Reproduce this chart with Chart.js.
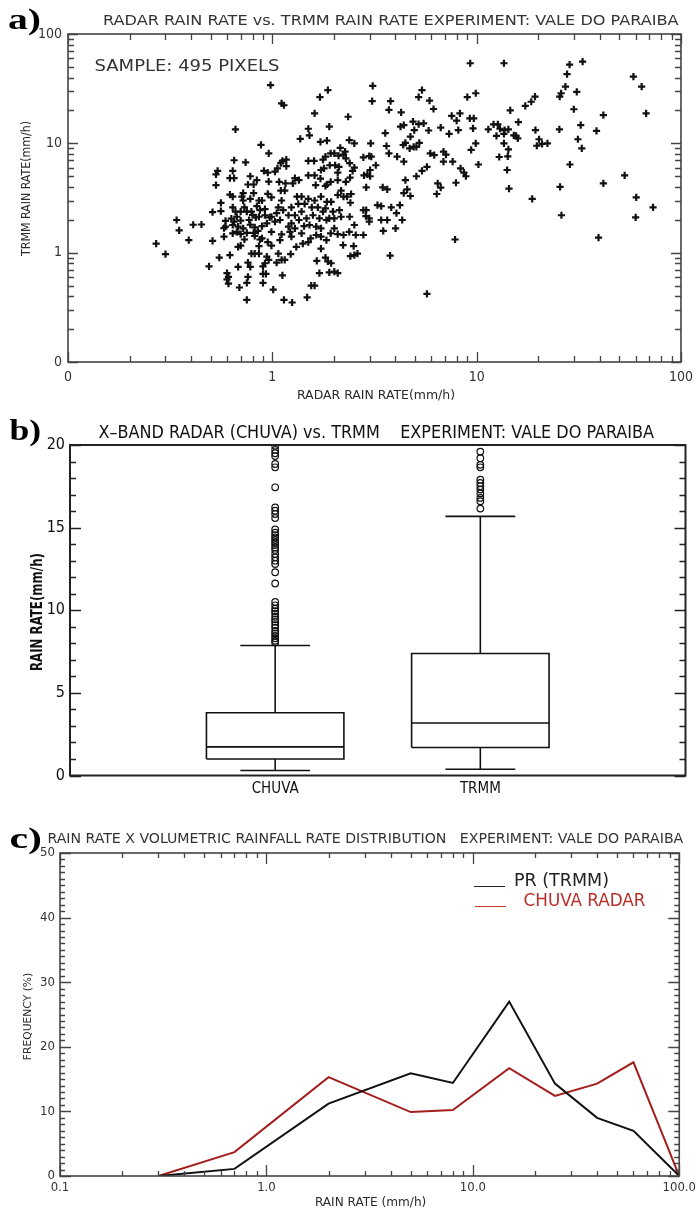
<!DOCTYPE html>
<html>
<head>
<meta charset="UTF-8">
<title>Radar vs TRMM rain rate - Vale do Paraiba</title>
<script src="https://cdn.jsdelivr.net/npm/chart.js@4.4.1/dist/chart.umd.min.js"></script>
<style>
  html, body { margin: 0; padding: 0; background: #fff; }
  body { position: relative; width: 700px; height: 1219px; overflow: hidden; }
  canvas { position: absolute; left: 0; }
  .txt { position: absolute; white-space: pre; line-height: 1; }
  .legline { position: absolute; height: 0; border-top: 1.5px solid; }
</style>
</head>
<body>
<canvas id="scatterChart" width="700" height="405" style="top:0"></canvas>
<canvas id="boxChart" width="700" height="395" style="top:405px"></canvas>
<canvas id="freqChart" width="700" height="419" style="top:800px"></canvas>
<script>
const NARROW = '"Liberation Sans Narrow", "DejaVu Sans Condensed", "Liberation Sans", sans-serif';
const SERIF = '"Liberation Serif", "DejaVu Serif", serif';

// ---- a) radar vs TRMM rain rate (mm/h) ----
const radarRate = [
  0.27,0.30,0.34,0.35,0.39,0.41,0.45,0.49,0.51,0.51,
  0.53,0.53,0.54,0.55,0.56,0.56,0.58,0.59,0.58,0.59,
  0.60,0.61,0.60,0.61,0.62,0.64,0.62,0.63,0.62,0.65,
  0.64,0.64,0.64,0.65,0.66,0.66,0.67,0.68,0.68,0.68,
  0.69,0.70,0.70,0.70,0.70,0.72,0.72,0.72,0.74,0.75,
  0.75,0.76,0.75,0.75,0.76,0.76,0.77,0.78,0.78,0.78,
  0.78,0.79,0.79,0.81,0.82,0.82,0.82,0.83,0.86,0.86,
  0.86,0.86,0.87,0.88,0.89,0.89,0.90,0.90,0.90,0.91,
  0.92,0.92,0.92,0.93,0.94,0.94,0.95,0.95,0.95,0.96,
  0.96,0.97,0.99,0.99,0.99,
  1.11,1.14,1.61,2.35,3.08,3.79,5.88,3.72,4.27,6.15,
  7.55,7.98,8.28,9.26,9.68,9.6,4.88,4.4,4.24,5.2,
  5.5,5.82,6.67,7.33,8.13,3.57,4.95,4.74,4.48,4.37,
  5.24,4.92,4.7,5.07,3.62,3.03,2.52,2.38,1.90,1.50,
  1.52,1.37,1.72,1.85,2.15,2.27,9.9,9.4,
  1.12,1.17,1.17,1.10,1.06,1.03,1.50,1.60,1.77,1.82,
  1.93,2.01,2.11,2.23,2.29,1.91,2.03,2.12,2.39,2.52,
  2.47,2.09,1.79,1.73,1.61,1.50,1.35,1.29,1.26,1.16,
  1.10,1.15,1.08,2.79,2.98,3.05,3.21,3.01,2.92,2.81,
  3.01,2.88,2.40,2.29,2.09,1.85,1.82,1.72,1.93,3.72,
  4.08,4.4,4.48,5.07,5.4,5.71,5.93,6.2,6.88,7.08,
  6.88,7.63,8.34,8.66,8.86,7.92,6.45,6.67,6.38,4.57,
  4.4,4.74,3.47,3.65,2.09,2.23,2.32,2.43,2.17,1.63,
  1.11,1.07,1.24,1.20,1.32,1.34,1.44,1.50,1.61,1.56,
  1.67,1.82,1.85,1.94,1.90,2.01,2.13,2.17,2.39,2.41,
  2.52,2.38,2.79,2.88,2.87,2.98,2.98,2.79,2.56,3.27,
  3.41,3.82,4.21,4.05,4.32,3.41,3.65,4.01,3.49,1.03,
  1.09,1.20,1.24,1.29,1.35,1.43,1.52,1.64,1.73,1.84,
  1.93,2.09,2.23,2.01,1.11,1.09,1.24,1.39,1.41,1.50,
  1.54,1.73,
  2.22,2.50,2.52,2.61,2.41,1.65,1.82,1.87,1.94,2.09,
  2.01,1.70,1.90,1.55,1.61,1.48,1.25,1.14,1.01,1.12,
  1.07,1.11,1.15,1.23,1.05,3.77,5.71,7.84,
  9.3,13.6,28.5,33,27.7,27.2,25.9,25.5,30.9,9.0,
  9.9,17.3,18.5,19.3,29.9,41.7,67.5,14.6,16.0,11.4,
  12.1,12.7,13.0,13.7,13.6,12.5,14.3,15.2,15.6,15.9,
  13.6,14.3,14.2,12.9,14.1,14.4,18.7,19.4,20.2,19.7,
  20.9,22.2,25.4,25.6,26,28.6,32.3,31.3,32.7,38.6,
  41.7,39.5,53,60.4,60,73,58.5,64.2,10.2,
  0.98,1.71,1.87,3.1,5.2,5.4,
  0.81,0.85,0.87,0.73,0.67,0.65,0.80,0.84,0.99,0.89,
  0.73,0.64,0.71,0.81,0.96,0.84,
  1.05,1.13,1.29,1.39,1.47,1.58,1.70,1.77,1.98,1.39,
  1.73,1.22,1.64,1.84,1.31,1.73
];
const trmmRate = [
  1.21,0.97,1.99,1.60,1.30,1.80,1.81,0.75,2.35,1.28,
  4.15,5.2,5.6,0.90,2.85,2.4,1.68,1.73,1.40,1.95,
  0.65,0.60,0.57,0.52,3.4,3.25,0.95,2.05,4.8,4.8,
  5.6,1.79,1.50,7.0,2.37,13.4,2.13,0.74,1.73,1.13,
  0.48,1.96,2.37,1.48,1.16,3.0,3.5,1.67,6.7,0.53,
  1.52,0.60,2.37,0.37,4.2,0.81,1.99,5.0,3.1,1.80,
  0.74,2.37,0.98,4.2,1.70,1.42,0.98,2.1,2.13,1.15,
  0.98,3.0,2.45,9.7,1.75,1.35,0.75,0.64,0.53,5.6,
  2.2,0.80,2.5,0.64,1.85,0.92,5.4,3.45,1.25,0.86,
  8.1,2.1,3.2,1.55,1.16,
  23.2,22.3,18.8,17.5,24.3,24.3,24.6,20.2,19.2,20.6,
  17.8,16.1,18.8,16.9,16.9,13.7,15.8,14.7,14.2,15.0,
  15.2,13.1,13.9,12.2,13.2,12.4,13.2,11.5,10.1,9.66,
  10.1,9.3,9.0,9.3,9.45,10.0,10.0,10.7,14.2,13.6,
  11.8,11.0,10.3,10.6,9.1,8.4,10.0,8.7,
  6.9,7.1,6.2,6.6,5.9,5.5,6.9,6.9,7.1,7.55,
  8.1,8.1,7.7,7.9,7.3,6.3,6.3,6.1,6.6,6.0,
  5.6,5.4,5.9,5.7,5.1,5.1,4.6,4.8,4.3,4.3,
  3.7,3.7,4.45,7.45,7.66,7.55,6.3,5.7,5.2,5.1,
  5.0,3.95,4.85,4.45,4.6,4.2,4.07,4.75,4.45,8.1,
  7.55,6.8,4.6,5.0,5.6,6.1,8.1,7.8,8.4,7.9,
  6.8,6.8,5.9,5.4,5.0,4.36,4.3,3.93,3.44,3.79,
  3.5,3.3,3.95,3.79,3.37,3.25,3.25,3.44,3.7,4.15,
  3.0,2.6,2.6,2.2,3.25,2.8,2.8,3.1,3.0,2.6,
  2.6,2.54,2.92,2.92,2.06,2.06,2.45,2.13,2.13,2.86,
  1.79,1.55,2.45,2.45,2.16,2.06,1.92,1.45,1.45,2.72,
  2.67,2.6,2.72,2.3,1.99,1.99,1.99,1.67,1.58,1.92,
  1.99,1.73,1.85,1.67,1.99,1.75,1.79,1.73,1.67,1.99,
  1.5,1.48,1.45,1.67,1.47,1.30,1.40,1.5,1.21,1.25,
  1.35,1.40,
  1.17,1.15,0.95,0.98,0.93,0.84,0.90,0.83,0.80,0.65,
  0.67,0.65,0.66,0.50,0.50,0.39,0.35,0.37,0.46,0.62,
  0.98,0.86,0.86,0.97,0.81,0.94,0.42,1.32,
  54,54,52.5,56,43,33,28.7,26.7,29.5,26.5,
  28.7,22,24,26.7,20.5,18.1,18.8,20,15.6,13.4,
  14.9,14.9,13.6,13.2,12.2,11.7,13.4,11.8,11.7,11.1,
  10.0,8.8,7.6,7.5,5.7,3.85,3.1,13.2,10.9,9.5,
  9.9,10,13.4,4.0,2.2,6.4,14.7,10.9,9.0,13.0,
  4.3,1.37,5.1,3.2,2.1,2.6,40.8,33,6.4,
  34,26.5,30.7,33.5,26.5,30.7,
  1.52,1.58,1.32,1.32,1.55,1.92,2.21,2.67,2.13,3.0,
  2.6,2.6,3.25,3.5,4.46,4.6,
  2.3,2.45,2.2,2.37,2.06,2.2,2.06,2.37,2.37,3.25,
  3.25,1.55,1.45,1.30,1.13,1.09
];
const logMajors = [0.1, 1, 10, 100];
const scatterTickLabels = ['0', '1', '10', '100'];

// ---- b) box plot statistics (mm/h) ----
const boxCats = ['CHUVA', 'TRMM'];
const boxWhiskerLow = [0.3, 0.38];
const boxQ1 = [1.0, 1.69];
const boxMedian = [1.73, 3.18];
const boxQ3 = [3.8, 7.38];
const boxWhiskerHigh = [7.87, 15.68];
const chuvaOutliers = [19.95, 19.7, 19.5, 19.33, 18.85, 18.65, 17.44, 16.22, 16.02, 15.82, 15.58,
  14.89, 14.7, 14.55, 14.4, 14.25, 14.1, 13.95, 13.8, 13.65, 13.4, 13.2, 13.0, 12.8, 12.3, 11.62,
  10.5, 10.3, 10.1, 9.95, 9.8, 9.6, 9.45, 9.3, 9.1, 8.95, 8.75, 8.6, 8.45, 8.3, 8.15, 8.05];
const trmmOutliers = [19.6, 19.2, 18.8, 18.65, 17.9, 17.7, 17.5, 17.3, 17.07, 16.8, 16.6, 16.15];
const boxYTicks = [0, 5, 10, 15, 20];

// ---- c) volumetric rain rate distribution (%) ----
const rateBins = [0.3, 0.7, 2, 5, 8, 15, 25, 40, 60, 100];
const prFreq = [0, 1.1, 11.2, 15.9, 14.4, 27.0, 14.3, 9.0, 7.0, 0];
const chuvaFreq = [0, 3.7, 15.3, 9.9, 10.2, 16.7, 12.4, 14.3, 17.6, 0];
const freqTickLabels = ['0.1', '1.0', '10.0', '100.0'];
const freqYTicks = [0, 10, 20, 30, 40, 50];

// minor tick positions (decades 2..9)
const logMinors = [];
[0.1, 1, 10].forEach((d) => { for (let k = 2; k <= 9; k++) logMinors.push(k * d); });
const unitMinors = (max, step) => {
  const out = [];
  for (let v = 1; v < max; v++) if (v % step !== 0) out.push(v);
  return out;
};

// IDL-like frame: box round the plot with inward ticks on all sides
function idlFrame(o) {
  return {
    id: 'idlFrame',
    afterDatasetsDraw(chart) {
      const { ctx, chartArea: a } = chart;
      const xs = chart.scales.x, ys = chart.scales.y;
      ctx.save();
      ctx.strokeStyle = o.color;
      ctx.lineWidth = o.tickWidth;
      ctx.beginPath();
      const tx = (vals, len) => vals.forEach((v) => {
        const p = Math.round(xs.getPixelForValue(v)) + 0.5;
        ctx.moveTo(p, a.bottom); ctx.lineTo(p, a.bottom - len);
        ctx.moveTo(p, a.top); ctx.lineTo(p, a.top + len);
      });
      const ty = (vals, len) => vals.forEach((v) => {
        const p = Math.round(ys.getPixelForValue(v)) + 0.5;
        ctx.moveTo(a.left, p); ctx.lineTo(a.left + len, p);
        ctx.moveTo(a.right, p); ctx.lineTo(a.right - len, p);
      });
      if (o.xMajor) tx(o.xMajor, o.majorLen);
      if (o.xMinor) tx(o.xMinor, o.minorLen);
      if (o.yMajor) ty(o.yMajor, o.majorLen);
      if (o.yMinor) ty(o.yMinor, o.minorLen);
      ctx.stroke();
      ctx.lineWidth = o.frameWidth;
      ctx.strokeRect(a.left, a.top, a.right - a.left, a.bottom - a.top);
      ctx.restore();
    }
  };
}

function axis(type, min, max, ticks, labels, fit, isY, font, pad, color) {
  return {
    type, min, max,
    grid: { display: false, drawTicks: false },
    border: { display: false },
    afterBuildTicks: (s) => { s.ticks = ticks.map((v) => ({ value: v })); },
    afterFit: (s) => { if (isY) s.width = fit; else s.height = fit; },
    ticks: {
      autoSkip: false, maxRotation: 0, padding: pad, color,
      font, callback: (v) => labels[ticks.indexOf(v)]
    }
  };
}

const base = {
  responsive: false, animation: false, devicePixelRatio: 1,
  events: []
};
const quiet = { legend: { display: false }, tooltip: { enabled: false } };

// a) scatter
new Chart(document.getElementById('scatterChart'), {
  type: 'scatter',
  data: {
    datasets: [{
      data: radarRate.map((x, i) => ({ x, y: trmmRate[i] })),
      pointStyle: 'cross', pointRadius: 3.6, pointBorderWidth: 2.2,
      borderColor: '#111', backgroundColor: '#111'
    }]
  },
  options: {
    ...base,
    layout: { padding: { top: 34, right: 13, left: 0, bottom: 0 } },
    plugins: quiet,
    scales: {
      x: axis('logarithmic', 0.1, 100, logMajors, scatterTickLabels, 43, false, { family: NARROW, size: 14 }, 7, '#333'),
      y: axis('logarithmic', 0.1, 100, logMajors, scatterTickLabels, 68, true, { family: NARROW, size: 14 }, 6, '#333')
    }
  },
  plugins: [idlFrame({ color: '#444', tickWidth: 1.3, frameWidth: 1.6, majorLen: 10, minorLen: 6,
    xMajor: logMajors, xMinor: logMinors, yMajor: logMajors, yMinor: logMinors })]
});

// b) box plot drawn from the statistics arrays
const boxHalf = 0.335, capHalf = 0.17;
const boxSets = [];
const seg = (pts) => boxSets.push({ data: pts, showLine: true, borderColor: '#111', borderWidth: 1.6, pointRadius: 0, fill: false });
boxCats.forEach((c, i) => {
  const cx = i + 1;
  seg([{ x: cx - boxHalf, y: boxQ1[i] }, { x: cx + boxHalf, y: boxQ1[i] }, { x: cx + boxHalf, y: boxQ3[i] },
       { x: cx - boxHalf, y: boxQ3[i] }, { x: cx - boxHalf, y: boxQ1[i] }]);
  seg([{ x: cx - boxHalf, y: boxMedian[i] }, { x: cx + boxHalf, y: boxMedian[i] }]);
  seg([{ x: cx, y: boxQ1[i] }, { x: cx, y: boxWhiskerLow[i] }]);
  seg([{ x: cx, y: boxQ3[i] }, { x: cx, y: boxWhiskerHigh[i] }]);
  seg([{ x: cx - capHalf, y: boxWhiskerLow[i] }, { x: cx + capHalf, y: boxWhiskerLow[i] }]);
  seg([{ x: cx - capHalf, y: boxWhiskerHigh[i] }, { x: cx + capHalf, y: boxWhiskerHigh[i] }]);
});
boxSets.push({
  data: chuvaOutliers.map((v) => ({ x: 1, y: v })).concat(trmmOutliers.map((v) => ({ x: 2, y: v }))),
  pointStyle: 'circle', pointRadius: 3.3, pointBorderWidth: 1.2,
  borderColor: '#111', backgroundColor: 'rgba(0,0,0,0)', showLine: false
});

new Chart(document.getElementById('boxChart'), {
  type: 'scatter',
  data: { datasets: boxSets },
  options: {
    ...base,
    layout: { padding: { top: 40, right: 14.5, left: 0, bottom: 0 } },
    plugins: quiet,
    scales: {
      x: axis('linear', 0, 3, [1, 2], boxCats, 24.5, false, { family: NARROW, size: 15 }, 5, '#111'),
      y: axis('linear', 0, 20, boxYTicks, boxYTicks.map(String), 70, true, { family: NARROW, size: 16 }, 5, '#111')
    }
  },
  plugins: [idlFrame({ color: '#222', tickWidth: 1.4, frameWidth: 2, majorLen: 11, minorLen: 6,
    yMajor: boxYTicks, yMinor: unitMinors(20, 5) })]
});

// c) frequency distribution
new Chart(document.getElementById('freqChart'), {
  type: 'scatter',
  data: {
    datasets: [
      { label: 'PR (TRMM)', data: rateBins.map((x, i) => ({ x, y: prFreq[i] })), showLine: true,
        borderColor: '#111', borderWidth: 2, pointRadius: 0 },
      { label: 'CHUVA RADAR', data: rateBins.map((x, i) => ({ x, y: chuvaFreq[i] })), showLine: true,
        borderColor: '#a51e1e', borderWidth: 2, pointRadius: 0 }
    ]
  },
  options: {
    ...base,
    layout: { padding: { top: 53, right: 14.5, left: 0, bottom: 0 } },
    plugins: quiet,
    scales: {
      x: axis('logarithmic', 0.1, 100, logMajors, freqTickLabels, 43, false, { family: NARROW, size: 13 }, 4, '#333'),
      y: axis('linear', 0, 50, freqYTicks, freqYTicks.map(String), 60, true, { family: NARROW, size: 13 }, 5, '#333')
    }
  },
  plugins: [idlFrame({ color: '#444', tickWidth: 1.3, frameWidth: 1.6, majorLen: 11, minorLen: 5,
    xMajor: logMajors, xMinor: logMinors, yMajor: freqYTicks, yMinor: unitMinors(50, 10) })]
});

// texts: centred at (cx, cy), squeezed/stretched to width w
function addText(txt, o) {
  const d = document.createElement('div');
  d.className = 'txt';
  d.textContent = txt;
  d.style.font = `${o.weight || 'normal'} ${o.size}px ${o.font || NARROW}`;
  d.style.color = o.color || '#2b2b2b';
  document.body.appendChild(d);
  const w = d.offsetWidth, h = d.offsetHeight;
  const sx = o.w ? o.w / w : 1;
  d.style.left = (o.cx - w / 2) + 'px';
  d.style.top = (o.cy - h / 2) + 'px';
  d.style.transform = (o.rot ? `rotate(${o.rot}deg) ` : '') + `scaleX(${sx})`;
}
function addLine(x1, x2, y, color) {
  const d = document.createElement('div');
  d.className = 'legline';
  d.style.left = x1 + 'px';
  d.style.width = (x2 - x1) + 'px';
  d.style.top = y + 'px';
  d.style.borderColor = color;
  document.body.appendChild(d);
}

addText('a)', { cx: 24, cy: 19, size: 30, font: SERIF, weight: 'bold', color: '#000', w: 33 });
addText('RADAR RAIN RATE vs. TRMM RAIN RATE EXPERIMENT: VALE DO PARAIBA', { cx: 391, cy: 20, size: 14, w: 576, color: '#333' });
addText('SAMPLE: 495 PIXELS', { cx: 187, cy: 65, size: 16, w: 185, color: '#333' });
addText('TRMM RAIN RATE(mm/h)', { cx: 25.5, cy: 188, size: 13, w: 135, rot: -90 });
addText('RADAR RAIN RATE(mm/h)', { cx: 376, cy: 394, size: 13, w: 158 });

addText('b)', { cx: 25, cy: 430, size: 30, font: SERIF, weight: 'bold', color: '#000', w: 32 });
addText('X\u2013BAND RADAR (CHUVA) vs. TRMM    EXPERIMENT: VALE DO PARAIBA', { cx: 376, cy: 431, size: 18, w: 556, color: '#111' });
addText('RAIN RATE(mm/h)', { cx: 37, cy: 612, size: 15, weight: 'bold', w: 118, rot: -90, color: '#111' });

addText('c)', { cx: 25, cy: 838, size: 30, font: SERIF, weight: 'bold', color: '#000', w: 32 });
addText('RAIN RATE X VOLUMETRIC RAINFALL RATE DISTRIBUTION   EXPERIMENT: VALE DO PARAIBA', { cx: 365, cy: 838, size: 14, w: 636, color: '#333' });
addText('FREQUENCY (%)', { cx: 27.5, cy: 1016, size: 11, w: 88, rot: -90 });
addText('RAIN RATE (mm/h)', { cx: 370, cy: 1202, size: 12, w: 111 });

addLine(474, 505, 886, '#222');
addText('PR (TRMM)', { cx: 561, cy: 880, size: 17, w: 95, color: '#222' });
addLine(475, 506, 906, '#c0392b');
addText('CHUVA RADAR', { cx: 584, cy: 900, size: 17, w: 122, color: '#b8302a' });
</script>
</body>
</html>
